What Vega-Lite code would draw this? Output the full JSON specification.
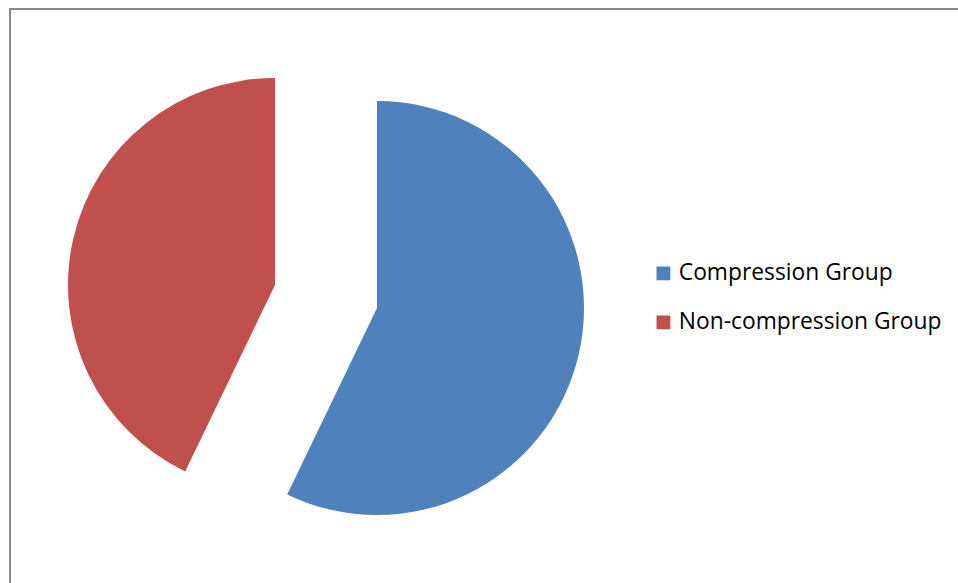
{
  "$schema": "https://vega.github.io/schema/vega-lite/v6.json",
  "width": 1000,
  "height": 620,
  "autosize": {"type": "none"},
  "padding": {"left": 10, "top": 9, "right": 0, "bottom": 0},
  "background": "white",
  "config": {"view": {"stroke": null}},
  "data": {"values": [
    {"group": "Compression Group", "value": 20, "order": 1},
    {"group": "Non-compression Group", "value": 15, "order": 2}
  ]},
  "layer": [
    {
      "data": {"values": [{"frame": 1}]},
      "mark": {"type": "rect", "fill": null, "fillOpacity": 0, "stroke": "#878787", "strokeWidth": 2},
      "encoding": {}
    },
    {
      "transform": [
        {"stack": "value", "groupby": [], "sort": [{"field": "order"}], "as": ["start", "end"]},
        {"filter": "datum.group == 'Compression Group'"}
      ],
      "mark": {"type": "arc", "radius": 207, "x": 367, "y": 299},
      "encoding": {
        "theta": {"field": "start", "type": "quantitative", "scale": {"domain": [0, 35]}},
        "theta2": {"field": "end"},
        "color": {
          "field": "group", "type": "nominal",
          "scale": {"domain": ["Compression Group", "Non-compression Group"], "range": ["#4F81BD", "#C0504D"]},
          "legend": {
            "title": null, "orient": "none", "legendX": 642, "legendY": 253,
            "symbolType": "square", "symbolSize": 190, "symbolStrokeWidth": 0,
            "labelFont": "Open Sans", "labelFontSize": 22.8, "labelColor": "#000000",
            "rowPadding": 25, "labelOffset": 4, "labelLimit": 400
          }
        }
      }
    },
    {
      "transform": [
        {"stack": "value", "groupby": [], "sort": [{"field": "order"}], "as": ["start", "end"]},
        {"filter": "datum.group == 'Non-compression Group'"}
      ],
      "mark": {"type": "arc", "radius": 207, "x": 265, "y": 276},
      "encoding": {
        "theta": {"field": "start", "type": "quantitative", "scale": {"domain": [0, 35]}},
        "theta2": {"field": "end"},
        "color": {"field": "group", "type": "nominal"}
      }
    }
  ]
}
